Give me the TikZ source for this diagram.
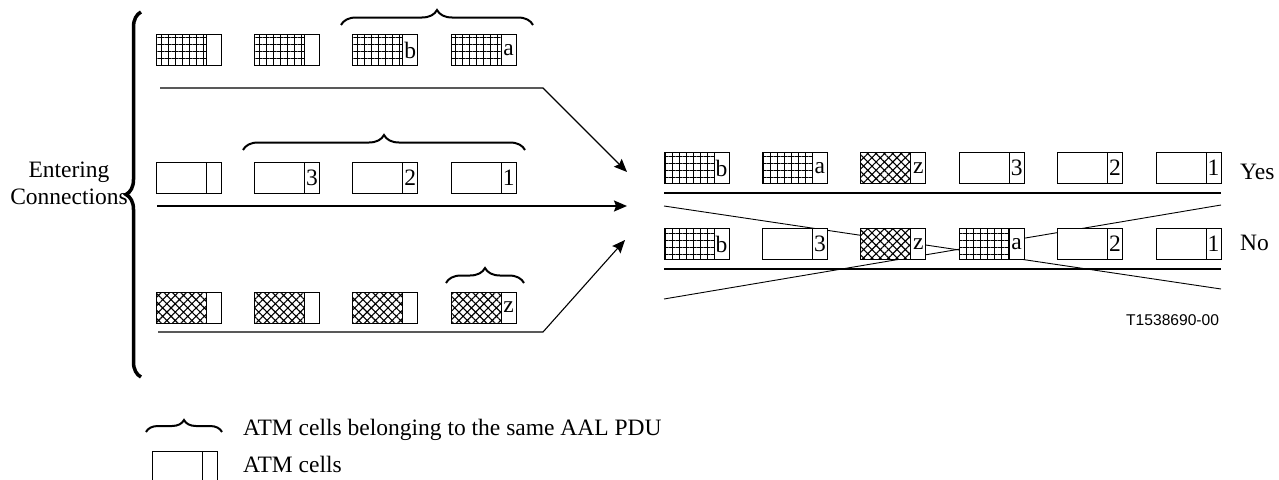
\documentclass[tikz,border=0pt]{standalone}
\usepackage{fontspec}
\setmainfont{Liberation Serif}
\newfontfamily\figsans{Liberation Sans}
\usetikzlibrary{positioning,patterns.meta,decorations.pathreplacing,arrows.meta}

\begin{document}
\begin{tikzpicture}[x=1pt,y=-1pt,>={Stealth[length=13pt,width=11pt,inset=2pt]},node distance=98.4pt,
		font=\fontsize{23.5}{27}\selectfont,
		cellbody/.style={draw,fill=white,line width=0.8pt,minimum width=50pt,minimum height=31pt,inner sep=0pt,outer sep=0pt},
		gridbody/.style={cellbody,postaction={pattern={Hatch[angle=0,distance=7pt,line width=1pt]}}},
		crossbody/.style={cellbody,postaction={pattern={Hatch[angle=45,distance=5.9pt,line width=1.1pt]}}},
		celltail/.style={cellbody,minimum width=15pt},
		pdubrace/.style={decorate,decoration={brace,amplitude=#1},line width=2pt},
		feed/.style={line width=1.1pt},
		rail/.style={line width=2pt},
		swapline/.style={line width=0.9pt},
		txt/.style={inner sep=0pt}]
		\useasboundingbox (0,0) rectangle (1279,479);
		% 输入连接
		\node[gridbody] (g1) at (181,50) {};
		\node[celltail] (g1t) [right=0pt of g1] {};
		\node[gridbody] (g2) [right of=g1] {};
		\node[celltail] (g2t) [right=0pt of g2] {};
		\node[gridbody] (g3) [right of=g2] {};
		\node[celltail] (g3t) [right=0pt of g3] {b};
		\node[gridbody] (g4) [right of=g3] {};
		\node[celltail] (g4t) [right=0pt of g4] {a};
		\node[cellbody] (w1) at (181,178) {};
		\node[celltail] (w1t) [right=0pt of w1] {};
		\node[cellbody] (w2) [right of=w1] {};
		\node[celltail] (w2t) [right=0pt of w2] {3};
		\node[cellbody] (w3) [right of=w2] {};
		\node[celltail] (w3t) [right=0pt of w3] {2};
		\node[cellbody] (w4) [right of=w3] {};
		\node[celltail] (w4t) [right=0pt of w4] {1};
		\node[crossbody] (x1) at (181,307.5) {};
		\node[celltail] (x1t) [right=0pt of x1] {};
		\node[crossbody] (x2) [right of=x1] {};
		\node[celltail] (x2t) [right=0pt of x2] {};
		\node[crossbody] (x3) [right of=x2] {};
		\node[celltail] (x3t) [right=0pt of x3] {};
		\node[crossbody] (x4) [right of=x3] {};
		\node[celltail] (x4t) [right=0pt of x4] {z};
		\draw[pdubrace=15pt] (341,25) -- (533,25);
		\draw[pdubrace=15pt] (243,150) -- (525,150);
		\draw[pdubrace=15pt] (446,283) -- (524,283);
		\draw[pdubrace=15pt,line width=3.5pt] (141,377) -- (141,12);
		\node[align=center] (entering) at (69,183) {Entering\\Connections};
		% 汇合箭头
		\coordinate (in1) at (160,88);
		\coordinate (bend1) at (543,88);
		\coordinate (mux1) at (627,172);
		\coordinate (in2) at (157,206);
		\coordinate (mux2) at (627,206);
		\coordinate (in3) at (158,332);
		\coordinate (bend3) at (543,332);
		\coordinate (mux3) at (625,240);
		\draw[feed,->] (in1) -- (bend1) -- (mux1);
		\draw[feed,line width=1.8pt,->] (in2) -- (mux2);
		\draw[feed,->] (in3) -- (bend3) -- (mux3);
		% 输出顺序 Yes
		\node[gridbody] (y1) at (689,168) {};
		\node[celltail] (y1t) [right=0pt of y1] {b};
		\node[gridbody] (y2) [right of=y1] {};
		\node[celltail] (y2t) [right=0pt of y2] {a};
		\node[crossbody] (y3) [right of=y2] {};
		\node[celltail] (y3t) [right=0pt of y3] {z};
		\node[cellbody] (y4) [right of=y3] {};
		\node[celltail] (y4t) [right=0pt of y4] {3};
		\node[cellbody] (y5) [right of=y4] {};
		\node[celltail] (y5t) [right=0pt of y5] {2};
		\node[cellbody] (y6) [right of=y5] {};
		\node[celltail] (y6t) [right=0pt of y6] {1};
		\coordinate (rail1w) at (664,193);
		\coordinate (rail1e) at (1221,193);
		\coordinate (rail2w) at (664,269);
		\coordinate (rail2e) at (1221,269);
		\draw[rail] (rail1w) -- (rail1e);
		\draw[rail] (rail2w) -- (rail2e);
		% 输出顺序 No
		\coordinate (swap1w) at (664,206);
		\coordinate (swap1e) at (1221,289);
		\coordinate (swap2w) at (664,299);
		\coordinate (swap2e) at (1221,205);
		\draw[swapline] (swap1w) -- (swap1e);
		\draw[swapline] (swap2w) -- (swap2e);
		\node[gridbody] (n1) at (689,244) {};
		\node[celltail] (n1t) [right=0pt of n1] {b};
		\node[cellbody] (n2) [right of=n1] {};
		\node[celltail] (n2t) [right=0pt of n2] {3};
		\node[crossbody] (n3) [right of=n2] {};
		\node[celltail] (n3t) [right=0pt of n3] {z};
		\node[gridbody] (n4) [right of=n3] {};
		\node[celltail] (n4t) [right=0pt of n4] {a};
		\node[cellbody] (n5) [right of=n4] {};
		\node[celltail] (n5t) [right=0pt of n5] {2};
		\node[cellbody] (n6) [right of=n5] {};
		\node[celltail] (n6t) [right=0pt of n6] {1};
		\node[txt,anchor=base west] (yes) at (1240,179) {Yes};
		\node[txt,anchor=base west] (no) at (1240,250) {No};
		\node[txt,anchor=base west,font=\figsans\fontsize{15.6}{18}\selectfont] (fig) at (1126,325) {T1538690-00};
		% 图例
		\draw[pdubrace=12pt] (146,432) -- (222,432);
		\node[cellbody] (key) at (177.7,466.5) {};
		\node[celltail] (keyt) [right=0pt of key] {};
		\node[txt,anchor=base west] (keypdu) at (243,435) {ATM cells belonging to the same AAL PDU};
		\node[txt,anchor=base west] (keycell) at (243,472) {ATM cells};
\end{tikzpicture}
\end{document}
